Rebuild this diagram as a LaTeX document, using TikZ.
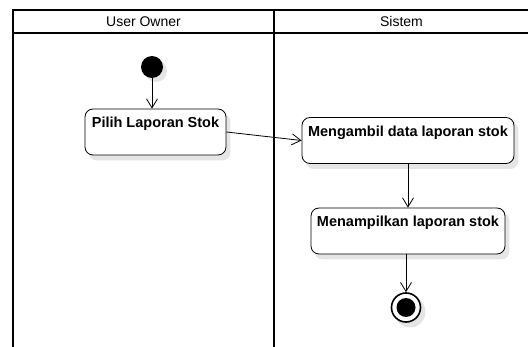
\documentclass[tikz,border=0pt]{standalone}
\usepackage{fontspec}
\setmainfont{Liberation Sans}
\usetikzlibrary{arrows.meta,backgrounds}

\begin{document}
\begin{tikzpicture}[x=1pt,y=1pt,yscale=-1,xscale=1,
	lane/.style={line width=1.8pt},
	lanehead/.style={font=\fontsize{14}{16}\selectfont,inner sep=0pt},
	action/.style={draw,line width=0.8pt,rounded corners=8pt,fill=white,
		font=\bfseries\fontsize{14.5}{16}\selectfont,inner xsep=2pt,inner ysep=4pt,
		text height=15pt,text depth=23pt},
	boxshadow/.style={fill=black!10,rounded corners=8pt},
	flow/.style={line width=0.8pt,-{Straight Barb[length=9pt,width=11pt,line width=0.8pt]}}]
	\clip (0,0) rectangle (528,347);
	% swimlanes
	\draw [lane] (13,347) -- (13,10) -- (540,10) ;
	\draw [lane] (13,33) -- (540,33) ;
	\draw [lane] (274,10) -- (274,347) ;
	\node [lanehead] (headUser) at (143.5,21.5) {User Owner};
	\node [lanehead] (headSistem) at (401.5,21.5) {Sistem};
	% start and end
	\fill [black!10] (156,71) circle (11) ;
	\node [circle,fill=black,inner sep=0pt,minimum size=22pt] (start) at (152,67) {};
	\fill [black!10] (410,312) circle (15.5) ;
	\node [circle,draw,line width=1.6pt,fill=white,inner sep=0pt,minimum size=29pt] (stop) at (406,307.5) {};
	\node [circle,fill=black,inner sep=0pt,minimum size=19pt] (stopdot) at (406,307.5) {};
	% actions
	\node [action,minimum width=141pt] (pilih) at (155.5,132) {Pilih Laporan Stok};
	\node [action,minimum width=212pt] (ambil) at (408,140.5) {Mengambil data laporan stok};
	\node [action,minimum width=194pt] (tampil) at (408,231) {Menampilkan laporan stok};
	\begin{scope}[on background layer]
		\foreach \act in {pilih,ambil,tampil}
			\fill [boxshadow] ([shift={(4,5)}]\act.north west) rectangle ([shift={(4,5)}]\act.south east) ;
	\end{scope}
	% flows
	\draw [flow] (start) -- (pilih.north -| start) ;
	\draw [flow] (pilih.east) -- (ambil.west) ;
	\draw [flow] (ambil.south -| tampil.north) -- (tampil.north) ;
	\draw [flow] (tampil.south -| stop.north) -- (stop.north) ;
\end{tikzpicture}
\end{document}
